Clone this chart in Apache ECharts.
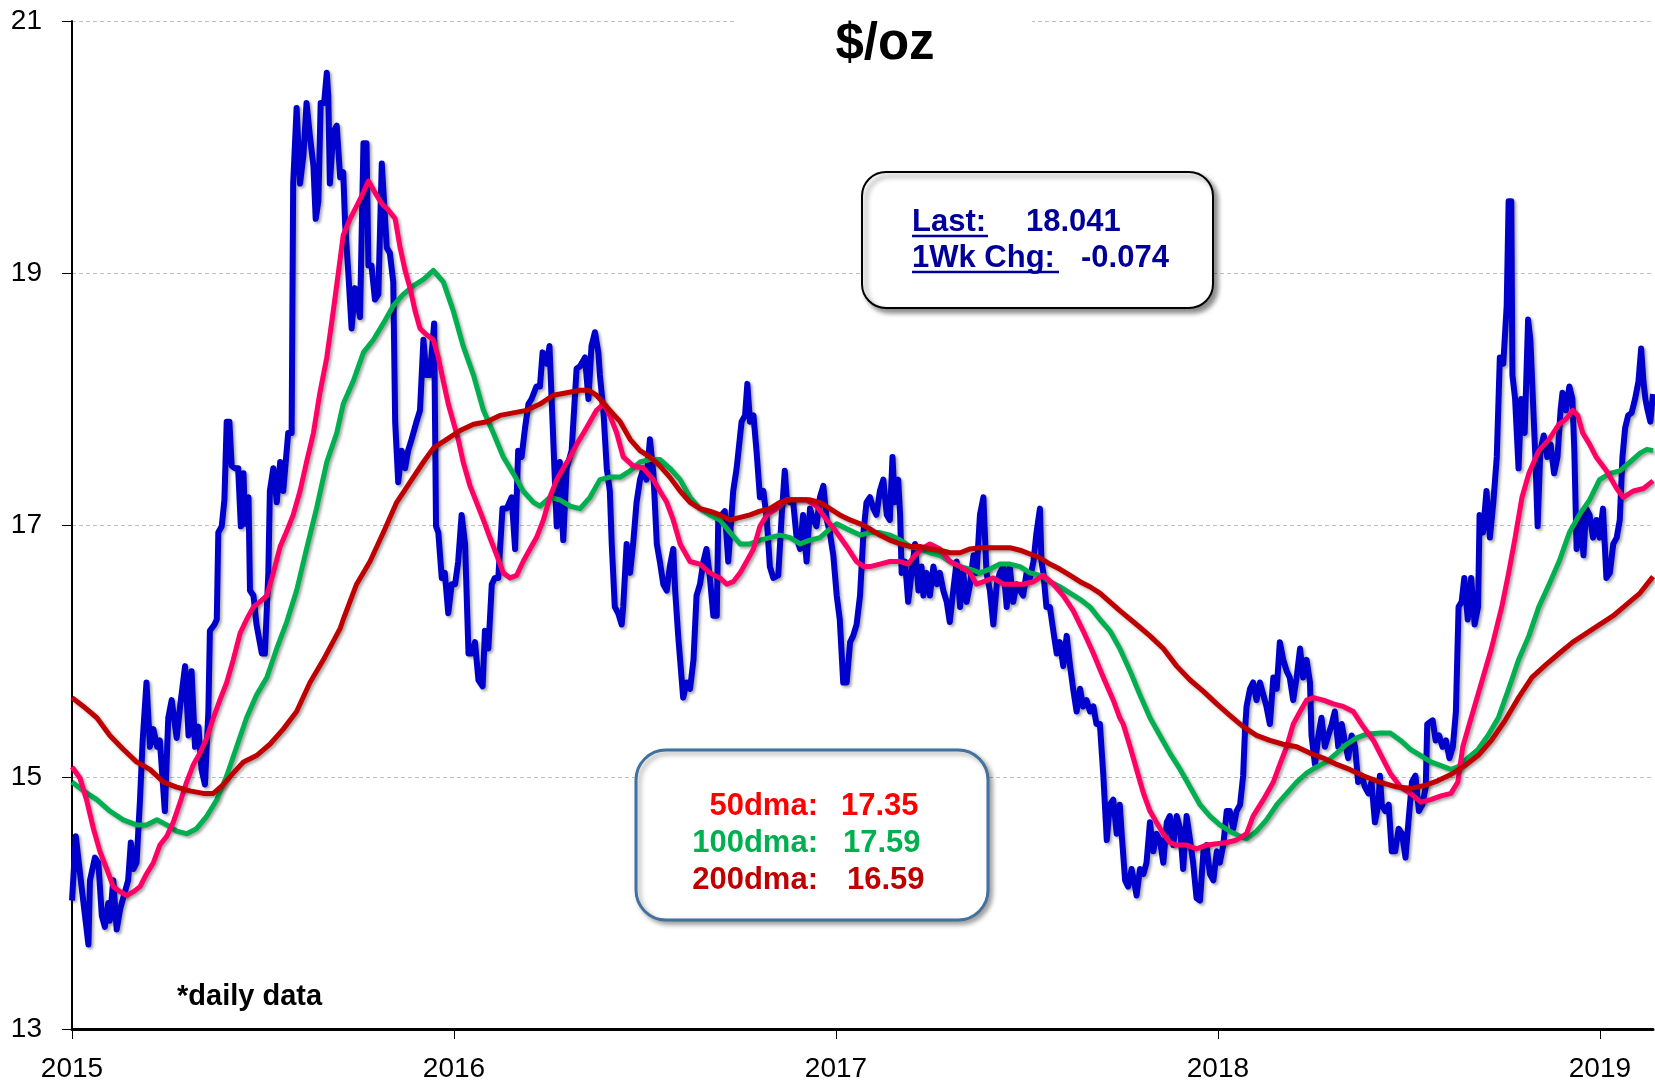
<!DOCTYPE html>
<html>
<head>
<meta charset="utf-8">
<title>$/oz</title>
<script src="https://cdn.jsdelivr.net/npm/echarts@6/dist/echarts.min.js"></script>
<style>
  html, body { margin: 0; padding: 0; background: #fff; }
  #chartBox { width: 1655px; height: 1086px; }
</style>
</head>
<body>
<div id="chartBox"></div>
<script>
// x = years since 2015, y = $/oz
const startYear = 2015;
const yearTicks = [0, 1, 2, 3, 4];
const priceTicks = [13, 15, 17, 19, 21];

const priceData = [
  [0.000, 14.02], [0.010, 14.53], [0.025, 14.13], [0.043, 13.67], [0.047, 14.18], [0.060, 14.36], [0.069, 14.32], [0.078, 13.90],
  [0.086, 13.81], [0.095, 14.00], [0.099, 13.86], [0.108, 14.18], [0.117, 13.79], [0.126, 13.95], [0.134, 14.04], [0.147, 14.18],
  [0.154, 14.48], [0.161, 14.27], [0.169, 14.32], [0.178, 14.82], [0.185, 15.29], [0.195, 15.75], [0.204, 15.24], [0.213, 15.38],
  [0.223, 15.24], [0.230, 15.29], [0.243, 14.73], [0.252, 15.47], [0.261, 15.61], [0.274, 15.31], [0.283, 15.56], [0.296, 15.88],
  [0.305, 15.33], [0.313, 15.84], [0.322, 15.24], [0.331, 15.40], [0.339, 15.06], [0.348, 14.94], [0.357, 15.52], [0.361, 16.16],
  [0.373, 16.21], [0.379, 16.25], [0.383, 16.94], [0.392, 16.99], [0.399, 17.20], [0.405, 17.82], [0.412, 17.82], [0.418, 17.47],
  [0.427, 17.45], [0.435, 17.45], [0.442, 16.99], [0.449, 17.41], [0.453, 17.01], [0.462, 17.22], [0.466, 16.48], [0.475, 16.44],
  [0.483, 16.21], [0.497, 15.98], [0.505, 15.98], [0.514, 16.62], [0.518, 17.27], [0.527, 17.45], [0.536, 17.18], [0.545, 17.50],
  [0.553, 17.27], [0.566, 17.73], [0.575, 17.73], [0.579, 19.71], [0.588, 20.31], [0.597, 19.71], [0.606, 19.94], [0.614, 20.35],
  [0.623, 20.08], [0.632, 19.85], [0.638, 19.43], [0.645, 19.57], [0.651, 20.35], [0.660, 20.35], [0.667, 20.59], [0.671, 20.40],
  [0.675, 19.71], [0.684, 20.12], [0.693, 20.17], [0.702, 19.76], [0.710, 19.80], [0.715, 19.39], [0.723, 19.02], [0.732, 18.56],
  [0.741, 18.88], [0.754, 18.65], [0.763, 20.03], [0.771, 20.03], [0.776, 19.06], [0.784, 19.06], [0.793, 18.79], [0.802, 18.83],
  [0.811, 19.87], [0.815, 19.87], [0.824, 19.20], [0.832, 19.16], [0.841, 18.93], [0.846, 17.82], [0.854, 17.34], [0.863, 17.59],
  [0.872, 17.45], [0.880, 17.59], [0.889, 17.68], [0.902, 17.82], [0.911, 17.91], [0.920, 18.47], [0.928, 18.19], [0.937, 18.19],
  [0.948, 18.60], [0.953, 16.99], [0.959, 16.94], [0.968, 16.58], [0.976, 16.62], [0.985, 16.30], [0.994, 16.53], [1.003, 16.53],
  [1.011, 16.71], [1.020, 17.08], [1.029, 16.85], [1.038, 15.98], [1.046, 15.98], [1.055, 16.07], [1.064, 15.77], [1.075, 15.72],
  [1.081, 16.16], [1.090, 16.02], [1.099, 16.53], [1.107, 16.58], [1.116, 16.58], [1.127, 17.13], [1.138, 17.13], [1.151, 17.22],
  [1.160, 16.81], [1.168, 17.59], [1.177, 17.54], [1.186, 17.77], [1.195, 17.96], [1.203, 18.00], [1.216, 18.10], [1.225, 18.10],
  [1.232, 18.37], [1.243, 18.28], [1.250, 18.42], [1.258, 17.82], [1.269, 16.99], [1.277, 17.50], [1.286, 16.88], [1.295, 17.45],
  [1.308, 17.59], [1.321, 18.24], [1.330, 18.26], [1.343, 18.33], [1.352, 18.00], [1.360, 18.42], [1.369, 18.53], [1.378, 18.37],
  [1.382, 18.19], [1.391, 17.91], [1.400, 17.45], [1.408, 17.27], [1.413, 16.85], [1.421, 16.35], [1.430, 16.30], [1.439, 16.21],
  [1.443, 16.35], [1.452, 16.85], [1.461, 16.62], [1.469, 16.85], [1.478, 17.18], [1.487, 17.36], [1.496, 17.45], [1.504, 17.36],
  [1.513, 17.68], [1.522, 17.41], [1.531, 16.85], [1.539, 16.71], [1.548, 16.53], [1.557, 16.48], [1.565, 16.67], [1.574, 16.81],
  [1.579, 16.48], [1.587, 16.12], [1.600, 15.63], [1.609, 15.75], [1.618, 15.70], [1.627, 15.93], [1.635, 16.44], [1.644, 16.53],
  [1.653, 16.71], [1.661, 16.81], [1.670, 16.58], [1.679, 16.28], [1.688, 16.28], [1.692, 17.08], [1.701, 17.08], [1.709, 17.11],
  [1.718, 16.71], [1.731, 17.27], [1.740, 17.45], [1.753, 17.82], [1.762, 17.87], [1.768, 18.12], [1.775, 17.82], [1.784, 17.87],
  [1.792, 17.59], [1.801, 17.22], [1.810, 17.27], [1.819, 17.04], [1.827, 16.67], [1.836, 16.58], [1.849, 16.60], [1.858, 17.08],
  [1.866, 17.43], [1.871, 17.22], [1.880, 17.18], [1.888, 17.18], [1.897, 16.90], [1.906, 16.81], [1.914, 17.08], [1.923, 16.71],
  [1.932, 17.13], [1.941, 17.04], [1.949, 16.99], [1.958, 17.22], [1.967, 17.31], [1.976, 17.04], [1.984, 16.94], [1.993, 16.76],
  [2.002, 16.44], [2.010, 16.25], [2.019, 15.75], [2.028, 15.75], [2.037, 16.07], [2.045, 16.12], [2.054, 16.21], [2.063, 16.44],
  [2.072, 16.94], [2.080, 17.18], [2.089, 17.22], [2.098, 17.13], [2.106, 17.08], [2.115, 17.27], [2.124, 17.36], [2.133, 17.08],
  [2.141, 17.04], [2.148, 17.54], [2.154, 17.18], [2.163, 17.36], [2.168, 17.08], [2.172, 16.62], [2.181, 16.71], [2.189, 16.39],
  [2.198, 16.62], [2.207, 16.85], [2.216, 16.48], [2.224, 16.67], [2.229, 16.44], [2.237, 16.62], [2.246, 16.44], [2.255, 16.67],
  [2.264, 16.53], [2.272, 16.62], [2.281, 16.48], [2.290, 16.39], [2.298, 16.23], [2.307, 16.48], [2.316, 16.71], [2.325, 16.35],
  [2.333, 16.62], [2.342, 16.39], [2.351, 16.53], [2.360, 16.76], [2.368, 16.62], [2.377, 17.08], [2.386, 17.22], [2.394, 16.62],
  [2.403, 16.48], [2.412, 16.21], [2.421, 16.53], [2.429, 16.62], [2.438, 16.67], [2.447, 16.35], [2.455, 16.67], [2.464, 16.39],
  [2.473, 16.53], [2.482, 16.48], [2.490, 16.44], [2.499, 16.62], [2.508, 16.58], [2.517, 16.71], [2.525, 16.94], [2.534, 17.13],
  [2.538, 16.71], [2.543, 16.62], [2.551, 16.35], [2.560, 16.35], [2.569, 16.16], [2.578, 15.98], [2.586, 16.07], [2.595, 15.88],
  [2.604, 16.12], [2.613, 15.88], [2.621, 15.70], [2.630, 15.52], [2.639, 15.70], [2.647, 15.56], [2.656, 15.61], [2.665, 15.52],
  [2.674, 15.56], [2.682, 15.42], [2.691, 15.42], [2.700, 15.01], [2.709, 14.50], [2.717, 14.78], [2.726, 14.82], [2.735, 14.55],
  [2.743, 14.78], [2.748, 14.55], [2.757, 14.18], [2.765, 14.13], [2.774, 14.27], [2.783, 14.13], [2.787, 14.06], [2.796, 14.27],
  [2.805, 14.23], [2.813, 14.32], [2.822, 14.64], [2.831, 14.41], [2.839, 14.55], [2.848, 14.50], [2.857, 14.32], [2.866, 14.64],
  [2.874, 14.69], [2.883, 14.46], [2.892, 14.69], [2.901, 14.59], [2.909, 14.27], [2.918, 14.69], [2.927, 14.50], [2.935, 14.32],
  [2.944, 14.04], [2.953, 14.02], [2.962, 14.41], [2.970, 14.46], [2.979, 14.23], [2.988, 14.18], [2.997, 14.41], [3.005, 14.32],
  [3.014, 14.46], [3.023, 14.73], [3.031, 14.73], [3.040, 14.59], [3.049, 14.73], [3.058, 14.78], [3.066, 15.01], [3.071, 15.38],
  [3.075, 15.56], [3.084, 15.70], [3.092, 15.75], [3.101, 15.61], [3.110, 15.75], [3.119, 15.65], [3.127, 15.56], [3.136, 15.42],
  [3.145, 15.79], [3.154, 15.70], [3.162, 16.07], [3.171, 15.93], [3.180, 15.84], [3.188, 15.79], [3.197, 15.61], [3.206, 15.79],
  [3.215, 16.02], [3.223, 15.79], [3.232, 15.93], [3.241, 15.75], [3.245, 15.33], [3.254, 15.10], [3.263, 15.33], [3.271, 15.47],
  [3.280, 15.24], [3.289, 15.33], [3.298, 15.42], [3.306, 15.52], [3.315, 15.24], [3.324, 15.42], [3.332, 15.29], [3.341, 15.15],
  [3.350, 15.33], [3.359, 15.24], [3.367, 14.96], [3.376, 15.01], [3.385, 14.92], [3.394, 14.87], [3.402, 14.96], [3.411, 14.64],
  [3.420, 14.78], [3.424, 15.01], [3.429, 14.78], [3.438, 14.73], [3.447, 14.78], [3.455, 14.41], [3.464, 14.41], [3.473, 14.59],
  [3.482, 14.55], [3.491, 14.36], [3.500, 14.69], [3.508, 14.96], [3.517, 15.01], [3.526, 14.73], [3.535, 14.78], [3.544, 14.92],
  [3.548, 15.42], [3.562, 15.45], [3.570, 15.29], [3.579, 15.33], [3.588, 15.24], [3.597, 15.29], [3.606, 15.15], [3.615, 15.24],
  [3.623, 15.52], [3.630, 16.35], [3.638, 16.39], [3.645, 16.58], [3.654, 16.25], [3.663, 16.58], [3.672, 16.21], [3.681, 16.35],
  [3.685, 17.08], [3.694, 16.94], [3.703, 17.27], [3.712, 16.90], [3.721, 17.18], [3.730, 17.54], [3.738, 18.33], [3.747, 18.28],
  [3.756, 18.74], [3.761, 19.57], [3.768, 19.57], [3.771, 18.19], [3.778, 18.00], [3.787, 17.45], [3.794, 18.00], [3.803, 17.73],
  [3.812, 18.63], [3.818, 18.47], [3.827, 17.82], [3.831, 17.54], [3.837, 16.99], [3.844, 17.59], [3.853, 17.71], [3.862, 17.54],
  [3.871, 17.64], [3.880, 17.41], [3.889, 17.54], [3.897, 17.91], [3.902, 18.05], [3.911, 17.91], [3.920, 18.10], [3.928, 18.00],
  [3.933, 17.59], [3.939, 16.81], [3.948, 17.08], [3.957, 16.76], [3.964, 17.13], [3.973, 17.08], [3.982, 16.90], [3.991, 17.04],
  [3.999, 16.90], [4.008, 17.13], [4.017, 16.58], [4.026, 16.62], [4.035, 16.85], [4.044, 16.90], [4.052, 17.04], [4.059, 17.54],
  [4.066, 17.77], [4.074, 17.87], [4.083, 17.89], [4.092, 18.00], [4.101, 18.14], [4.108, 18.40], [4.114, 18.14], [4.119, 18.00],
  [4.125, 17.91], [4.132, 17.82], [4.139, 18.04]
];

// 50 day moving average
const ma50Data = [
  [0.000, 15.08], [0.021, 14.99], [0.038, 14.82], [0.056, 14.59], [0.073, 14.41], [0.091, 14.27], [0.108, 14.13], [0.126, 14.09],
  [0.143, 14.06], [0.161, 14.09], [0.178, 14.13], [0.195, 14.23], [0.213, 14.32], [0.230, 14.46], [0.248, 14.53], [0.265, 14.64],
  [0.283, 14.80], [0.300, 14.96], [0.318, 15.10], [0.335, 15.19], [0.353, 15.31], [0.370, 15.47], [0.387, 15.61], [0.405, 15.75],
  [0.422, 15.93], [0.440, 16.14], [0.457, 16.25], [0.475, 16.35], [0.492, 16.39], [0.510, 16.44], [0.527, 16.62], [0.545, 16.83],
  [0.562, 16.95], [0.579, 17.08], [0.597, 17.27], [0.614, 17.50], [0.632, 17.73], [0.649, 18.05], [0.667, 18.33], [0.684, 18.70],
  [0.702, 19.11], [0.710, 19.30], [0.728, 19.43], [0.745, 19.53], [0.763, 19.64], [0.776, 19.73], [0.793, 19.64], [0.811, 19.55],
  [0.828, 19.50], [0.846, 19.43], [0.859, 19.20], [0.872, 19.02], [0.885, 18.88], [0.898, 18.70], [0.911, 18.56], [0.928, 18.51],
  [0.946, 18.47], [0.959, 18.33], [0.972, 18.14], [0.985, 17.96], [0.998, 17.82], [1.011, 17.68], [1.024, 17.50], [1.042, 17.31],
  [1.059, 17.18], [1.077, 17.04], [1.094, 16.90], [1.112, 16.76], [1.129, 16.62], [1.147, 16.58], [1.164, 16.60], [1.181, 16.71],
  [1.199, 16.81], [1.216, 16.90], [1.234, 17.04], [1.251, 17.22], [1.269, 17.36], [1.286, 17.45], [1.304, 17.54], [1.321, 17.64],
  [1.339, 17.73], [1.356, 17.82], [1.373, 17.91], [1.391, 17.96], [1.408, 17.87], [1.426, 17.73], [1.443, 17.54], [1.469, 17.47],
  [1.496, 17.45], [1.522, 17.36], [1.539, 17.27], [1.557, 17.18], [1.574, 17.04], [1.592, 16.85], [1.618, 16.71], [1.644, 16.69],
  [1.670, 16.62], [1.696, 16.58], [1.714, 16.53], [1.731, 16.55], [1.749, 16.62], [1.766, 16.71], [1.784, 16.81], [1.801, 16.99],
  [1.819, 17.08], [1.845, 17.13], [1.871, 17.20], [1.897, 17.20], [1.923, 17.20], [1.949, 17.15], [1.976, 17.04], [2.002, 16.94],
  [2.028, 16.83], [2.054, 16.71], [2.072, 16.67], [2.089, 16.67], [2.115, 16.69], [2.141, 16.71], [2.168, 16.71], [2.189, 16.69],
  [2.207, 16.76], [2.224, 16.81], [2.246, 16.85], [2.272, 16.81], [2.298, 16.71], [2.325, 16.67], [2.351, 16.62], [2.368, 16.53],
  [2.386, 16.55], [2.412, 16.58], [2.438, 16.53], [2.464, 16.53], [2.490, 16.53], [2.517, 16.55], [2.543, 16.60], [2.569, 16.53],
  [2.595, 16.44], [2.621, 16.32], [2.647, 16.16], [2.674, 15.98], [2.700, 15.79], [2.726, 15.61], [2.743, 15.47], [2.752, 15.42],
  [2.770, 15.24], [2.787, 15.06], [2.805, 14.87], [2.822, 14.73], [2.839, 14.64], [2.857, 14.55], [2.874, 14.48], [2.892, 14.46],
  [2.918, 14.46], [2.944, 14.43], [2.970, 14.46], [2.997, 14.47], [3.023, 14.48], [3.049, 14.50], [3.075, 14.55], [3.092, 14.69],
  [3.119, 14.82], [3.145, 14.96], [3.162, 15.10], [3.180, 15.24], [3.197, 15.42], [3.215, 15.52], [3.232, 15.61], [3.250, 15.63],
  [3.276, 15.61], [3.302, 15.58], [3.328, 15.56], [3.354, 15.52], [3.380, 15.40], [3.407, 15.29], [3.424, 15.19], [3.451, 15.03],
  [3.478, 14.92], [3.504, 14.87], [3.531, 14.80], [3.557, 14.82], [3.584, 14.85], [3.610, 14.87], [3.628, 14.96], [3.641, 15.24],
  [3.663, 15.47], [3.690, 15.75], [3.716, 16.02], [3.743, 16.35], [3.761, 16.62], [3.778, 16.90], [3.796, 17.22], [3.814, 17.41],
  [3.840, 17.59], [3.867, 17.68], [3.893, 17.80], [3.911, 17.84], [3.929, 17.91], [3.942, 17.87], [3.955, 17.73], [3.973, 17.64],
  [3.990, 17.54], [4.017, 17.43], [4.044, 17.29], [4.061, 17.22], [4.088, 17.27], [4.114, 17.29], [4.139, 17.35]
];

// 100 day moving average
const ma100Data = [
  [0.000, 14.96], [0.030, 14.89], [0.065, 14.82], [0.099, 14.73], [0.134, 14.66], [0.169, 14.62], [0.195, 14.62], [0.222, 14.66],
  [0.248, 14.62], [0.274, 14.57], [0.300, 14.55], [0.326, 14.59], [0.353, 14.69], [0.379, 14.82], [0.405, 15.01], [0.431, 15.24],
  [0.457, 15.47], [0.483, 15.65], [0.510, 15.79], [0.536, 16.02], [0.562, 16.23], [0.588, 16.48], [0.614, 16.81], [0.640, 17.13],
  [0.667, 17.50], [0.693, 17.73], [0.710, 17.96], [0.736, 18.14], [0.763, 18.37], [0.789, 18.47], [0.815, 18.60], [0.841, 18.74],
  [0.867, 18.83], [0.894, 18.90], [0.920, 18.95], [0.946, 19.02], [0.972, 18.93], [0.998, 18.70], [1.024, 18.42], [1.051, 18.19],
  [1.077, 17.91], [1.103, 17.73], [1.129, 17.54], [1.155, 17.41], [1.181, 17.27], [1.208, 17.18], [1.225, 17.15], [1.251, 17.22],
  [1.277, 17.20], [1.304, 17.15], [1.330, 17.13], [1.356, 17.22], [1.382, 17.36], [1.408, 17.38], [1.435, 17.38], [1.461, 17.43],
  [1.487, 17.50], [1.513, 17.52], [1.539, 17.52], [1.565, 17.45], [1.592, 17.36], [1.618, 17.22], [1.644, 17.13], [1.670, 17.08],
  [1.696, 17.04], [1.723, 16.94], [1.749, 16.85], [1.775, 16.85], [1.801, 16.88], [1.827, 16.90], [1.853, 16.92], [1.880, 16.90],
  [1.906, 16.85], [1.932, 16.88], [1.958, 16.90], [1.984, 16.97], [2.002, 17.01], [2.028, 16.97], [2.063, 16.92], [2.089, 16.94],
  [2.115, 16.94], [2.141, 16.92], [2.168, 16.88], [2.194, 16.83], [2.220, 16.81], [2.246, 16.78], [2.272, 16.76], [2.298, 16.71],
  [2.325, 16.67], [2.351, 16.65], [2.377, 16.62], [2.403, 16.65], [2.429, 16.69], [2.455, 16.69], [2.482, 16.67], [2.508, 16.62],
  [2.534, 16.60], [2.560, 16.55], [2.586, 16.51], [2.613, 16.46], [2.639, 16.41], [2.665, 16.35], [2.691, 16.25], [2.717, 16.16],
  [2.743, 16.02], [2.770, 15.84], [2.796, 15.65], [2.822, 15.47], [2.848, 15.33], [2.874, 15.19], [2.901, 15.06], [2.927, 14.92],
  [2.953, 14.78], [2.979, 14.69], [3.005, 14.62], [3.031, 14.57], [3.058, 14.53], [3.075, 14.51], [3.101, 14.57], [3.127, 14.66],
  [3.154, 14.78], [3.180, 14.87], [3.206, 14.96], [3.232, 15.03], [3.258, 15.08], [3.284, 15.12], [3.311, 15.19], [3.337, 15.26],
  [3.363, 15.31], [3.389, 15.34], [3.424, 15.35], [3.451, 15.35], [3.478, 15.29], [3.504, 15.22], [3.531, 15.17], [3.557, 15.12],
  [3.584, 15.09], [3.610, 15.06], [3.628, 15.08], [3.654, 15.15], [3.681, 15.22], [3.707, 15.33], [3.734, 15.47], [3.761, 15.70],
  [3.787, 15.93], [3.814, 16.12], [3.840, 16.35], [3.867, 16.53], [3.893, 16.71], [3.920, 16.94], [3.946, 17.08], [3.973, 17.20],
  [3.999, 17.36], [4.026, 17.41], [4.052, 17.43], [4.079, 17.50], [4.105, 17.57], [4.123, 17.60], [4.139, 17.59]
];

// 200 day moving average
const ma200Data = [
  [0.000, 15.63], [0.030, 15.56], [0.065, 15.47], [0.099, 15.33], [0.134, 15.22], [0.169, 15.12], [0.204, 15.06], [0.239, 14.96],
  [0.274, 14.92], [0.309, 14.89], [0.344, 14.87], [0.370, 14.87], [0.396, 14.94], [0.422, 15.03], [0.449, 15.12], [0.483, 15.17],
  [0.518, 15.26], [0.553, 15.38], [0.588, 15.52], [0.623, 15.75], [0.658, 15.93], [0.702, 16.18], [0.710, 16.25], [0.745, 16.53],
  [0.780, 16.71], [0.815, 16.94], [0.850, 17.18], [0.885, 17.34], [0.920, 17.50], [0.946, 17.61], [0.981, 17.68], [1.016, 17.75],
  [1.051, 17.80], [1.086, 17.82], [1.120, 17.87], [1.155, 17.89], [1.190, 17.91], [1.225, 17.96], [1.260, 18.03], [1.295, 18.05],
  [1.330, 18.07], [1.352, 18.07], [1.373, 18.03], [1.382, 18.00], [1.408, 17.91], [1.435, 17.82], [1.461, 17.68], [1.487, 17.59],
  [1.513, 17.54], [1.539, 17.47], [1.565, 17.38], [1.592, 17.27], [1.618, 17.18], [1.644, 17.13], [1.670, 17.11], [1.696, 17.08],
  [1.723, 17.04], [1.749, 17.06], [1.775, 17.08], [1.801, 17.11], [1.827, 17.13], [1.853, 17.18], [1.880, 17.20], [1.906, 17.20],
  [1.932, 17.20], [1.958, 17.18], [1.984, 17.13], [2.010, 17.08], [2.037, 17.04], [2.063, 17.01], [2.089, 16.97], [2.115, 16.92],
  [2.141, 16.88], [2.168, 16.85], [2.194, 16.83], [2.220, 16.83], [2.246, 16.81], [2.272, 16.80], [2.298, 16.78], [2.325, 16.78],
  [2.351, 16.81], [2.377, 16.82], [2.403, 16.82], [2.429, 16.82], [2.455, 16.82], [2.482, 16.80], [2.508, 16.77], [2.534, 16.74],
  [2.560, 16.69], [2.586, 16.65], [2.613, 16.60], [2.639, 16.55], [2.665, 16.51], [2.691, 16.46], [2.717, 16.39], [2.743, 16.32],
  [2.787, 16.21], [2.822, 16.12], [2.857, 16.02], [2.892, 15.88], [2.927, 15.77], [2.962, 15.68], [2.997, 15.58], [3.031, 15.49],
  [3.066, 15.40], [3.101, 15.33], [3.136, 15.29], [3.171, 15.26], [3.206, 15.24], [3.241, 15.19], [3.276, 15.15], [3.311, 15.10],
  [3.345, 15.06], [3.380, 15.01], [3.424, 14.96], [3.469, 14.92], [3.504, 14.91], [3.539, 14.93], [3.575, 14.97], [3.610, 15.02],
  [3.646, 15.09], [3.681, 15.17], [3.716, 15.29], [3.752, 15.45], [3.787, 15.63], [3.822, 15.79], [3.858, 15.89], [3.893, 15.98],
  [3.929, 16.07], [3.964, 16.14], [3.999, 16.21], [4.035, 16.28], [4.070, 16.37], [4.105, 16.46], [4.139, 16.59]
];

const lastPrice = '18.041';
const weekChange = '-0.074';
const maNames = ['50dma:', '100dma:', '200dma:'];
const maLast = ['17.35', '17.59', '16.59'];

var myChart = null;

const lineShadow = {
  shadowColor: 'rgba(0,0,0,0.35)',
  shadowBlur: 3,
  shadowOffsetX: 2,
  shadowOffsetY: 2
};

const maLine = (name, data, color, z) => {
  return {
    name: name,
    type: 'line',
    data: data,
    symbol: 'none',
    z: z,
    lineStyle: Object.assign({ color: color, width: 5, join: 'round' }, lineShadow)
  };
};

const getOptions = () => {
  const navy = '#000099';
  const boxFont = 'bold 31px "Liberation Sans", Arial';
  const maColors = ['#FF0000', '#00B050', '#C00000'];
  const maY = [806, 843, 880];
  const maValX = [841, 843, 847];
  const graphics = [
    // white band behind the title
    { type: 'rect', z: 100, shape: { x: 737, y: 0, width: 295, height: 70 }, style: { fill: '#fff' } },
    {
      type: 'text', z: 101, x: 885, y: 45,
      style: { text: '$/oz', font: 'bold 51px "Liberation Sans", Arial', fill: '#000', align: 'center', verticalAlign: 'middle' }
    },
    // Last box
    {
      type: 'rect', z: 100,
      shape: { x: 862, y: 172, width: 351, height: 136, r: 24 },
      style: { fill: '#fff', stroke: '#000', lineWidth: 2, shadowColor: 'rgba(0,0,0,0.45)', shadowBlur: 5, shadowOffsetX: 4, shadowOffsetY: 4 }
    },
    { type: 'text', z: 101, x: 912, y: 222, style: { text: 'Last:', font: boxFont, fill: navy, verticalAlign: 'middle' } },
    { type: 'text', z: 101, x: 1026, y: 222, style: { text: lastPrice, font: boxFont, fill: navy, verticalAlign: 'middle' } },
    { type: 'text', z: 101, x: 912, y: 258, style: { text: '1Wk Chg:', font: boxFont, fill: navy, verticalAlign: 'middle' } },
    { type: 'text', z: 101, x: 1081, y: 258, style: { text: weekChange, font: boxFont, fill: navy, verticalAlign: 'middle' } },
    { type: 'line', z: 101, shape: { x1: 912, y1: 236, x2: 988, y2: 236 }, style: { stroke: navy, lineWidth: 2.5 } },
    { type: 'line', z: 101, shape: { x1: 912, y1: 272, x2: 1059, y2: 272 }, style: { stroke: navy, lineWidth: 2.5 } },
    // dma box
    {
      type: 'rect', z: 100,
      shape: { x: 636, y: 750, width: 352, height: 170, r: 30 },
      style: { fill: '#fff', stroke: '#41719C', lineWidth: 3, shadowColor: 'rgba(0,0,0,0.35)', shadowBlur: 5, shadowOffsetX: 3, shadowOffsetY: 3 }
    },
    {
      type: 'text', z: 101, x: 177, y: 997,
      style: { text: '*daily data', font: 'bold 29px "Liberation Sans", Arial', fill: '#000', verticalAlign: 'middle' }
    }
  ];
  maNames.forEach((n, i) => {
    graphics.push({
      type: 'text', z: 101, x: 818, y: maY[i],
      style: { text: n, font: boxFont, fill: maColors[i], align: 'right', verticalAlign: 'middle' }
    });
    graphics.push({
      type: 'text', z: 101, x: maValX[i], y: maY[i],
      style: { text: maLast[i], font: boxFont, fill: maColors[i], verticalAlign: 'middle' }
    });
  });

  return {
    animation: false,
    backgroundColor: '#fff',
    grid: {
      left: 72,
      right: 2,
      top: 21,
      bottom: 57
    },
    xAxis: {
      type: 'value',
      min: 0,
      max: 4.139,
      interval: 1,
      splitLine: { show: false },
      axisLine: { show: true, lineStyle: { color: '#000', width: 3 } },
      axisTick: { show: true, length: 10, customValues: yearTicks, lineStyle: { color: '#000', width: 1 } },
      axisLabel: {
        customValues: yearTicks,
        margin: 26,
        color: '#000',
        fontSize: 28,
        fontFamily: '"Liberation Sans", Arial',
        formatter: v => String(startYear + Math.round(v))
      }
    },
    yAxis: {
      type: 'value',
      min: 13,
      max: 21,
      interval: 2,
      axisLine: { show: true, lineStyle: { color: '#000', width: 2 } },
      axisTick: { show: true, length: 10, customValues: priceTicks, lineStyle: { color: '#000', width: 1 } },
      axisLabel: {
        customValues: priceTicks,
        margin: 30,
        color: '#000',
        fontSize: 28,
        fontFamily: '"Liberation Sans", Arial'
      },
      splitLine: { show: true, lineStyle: { color: '#BFBFBF', type: [4, 3], width: 1 } }
    },
    series: [
      {
        name: 'Price',
        type: 'line',
        data: priceData,
        symbol: 'none',
        z: 2,
        lineStyle: Object.assign({ color: '#0000CC', width: 6, join: 'round' }, lineShadow)
      },
      maLine('100dma', ma100Data, '#00B050', 3),
      maLine('50dma', ma50Data, '#FF0066', 4),
      maLine('200dma', ma200Data, '#C00000', 5)
    ],
    graphic: graphics
  };
};

var chartDom = document.getElementById('chartBox');
myChart = echarts.init(chartDom);
myChart.setOption(getOptions(), true);
</script>
</body>
</html>
